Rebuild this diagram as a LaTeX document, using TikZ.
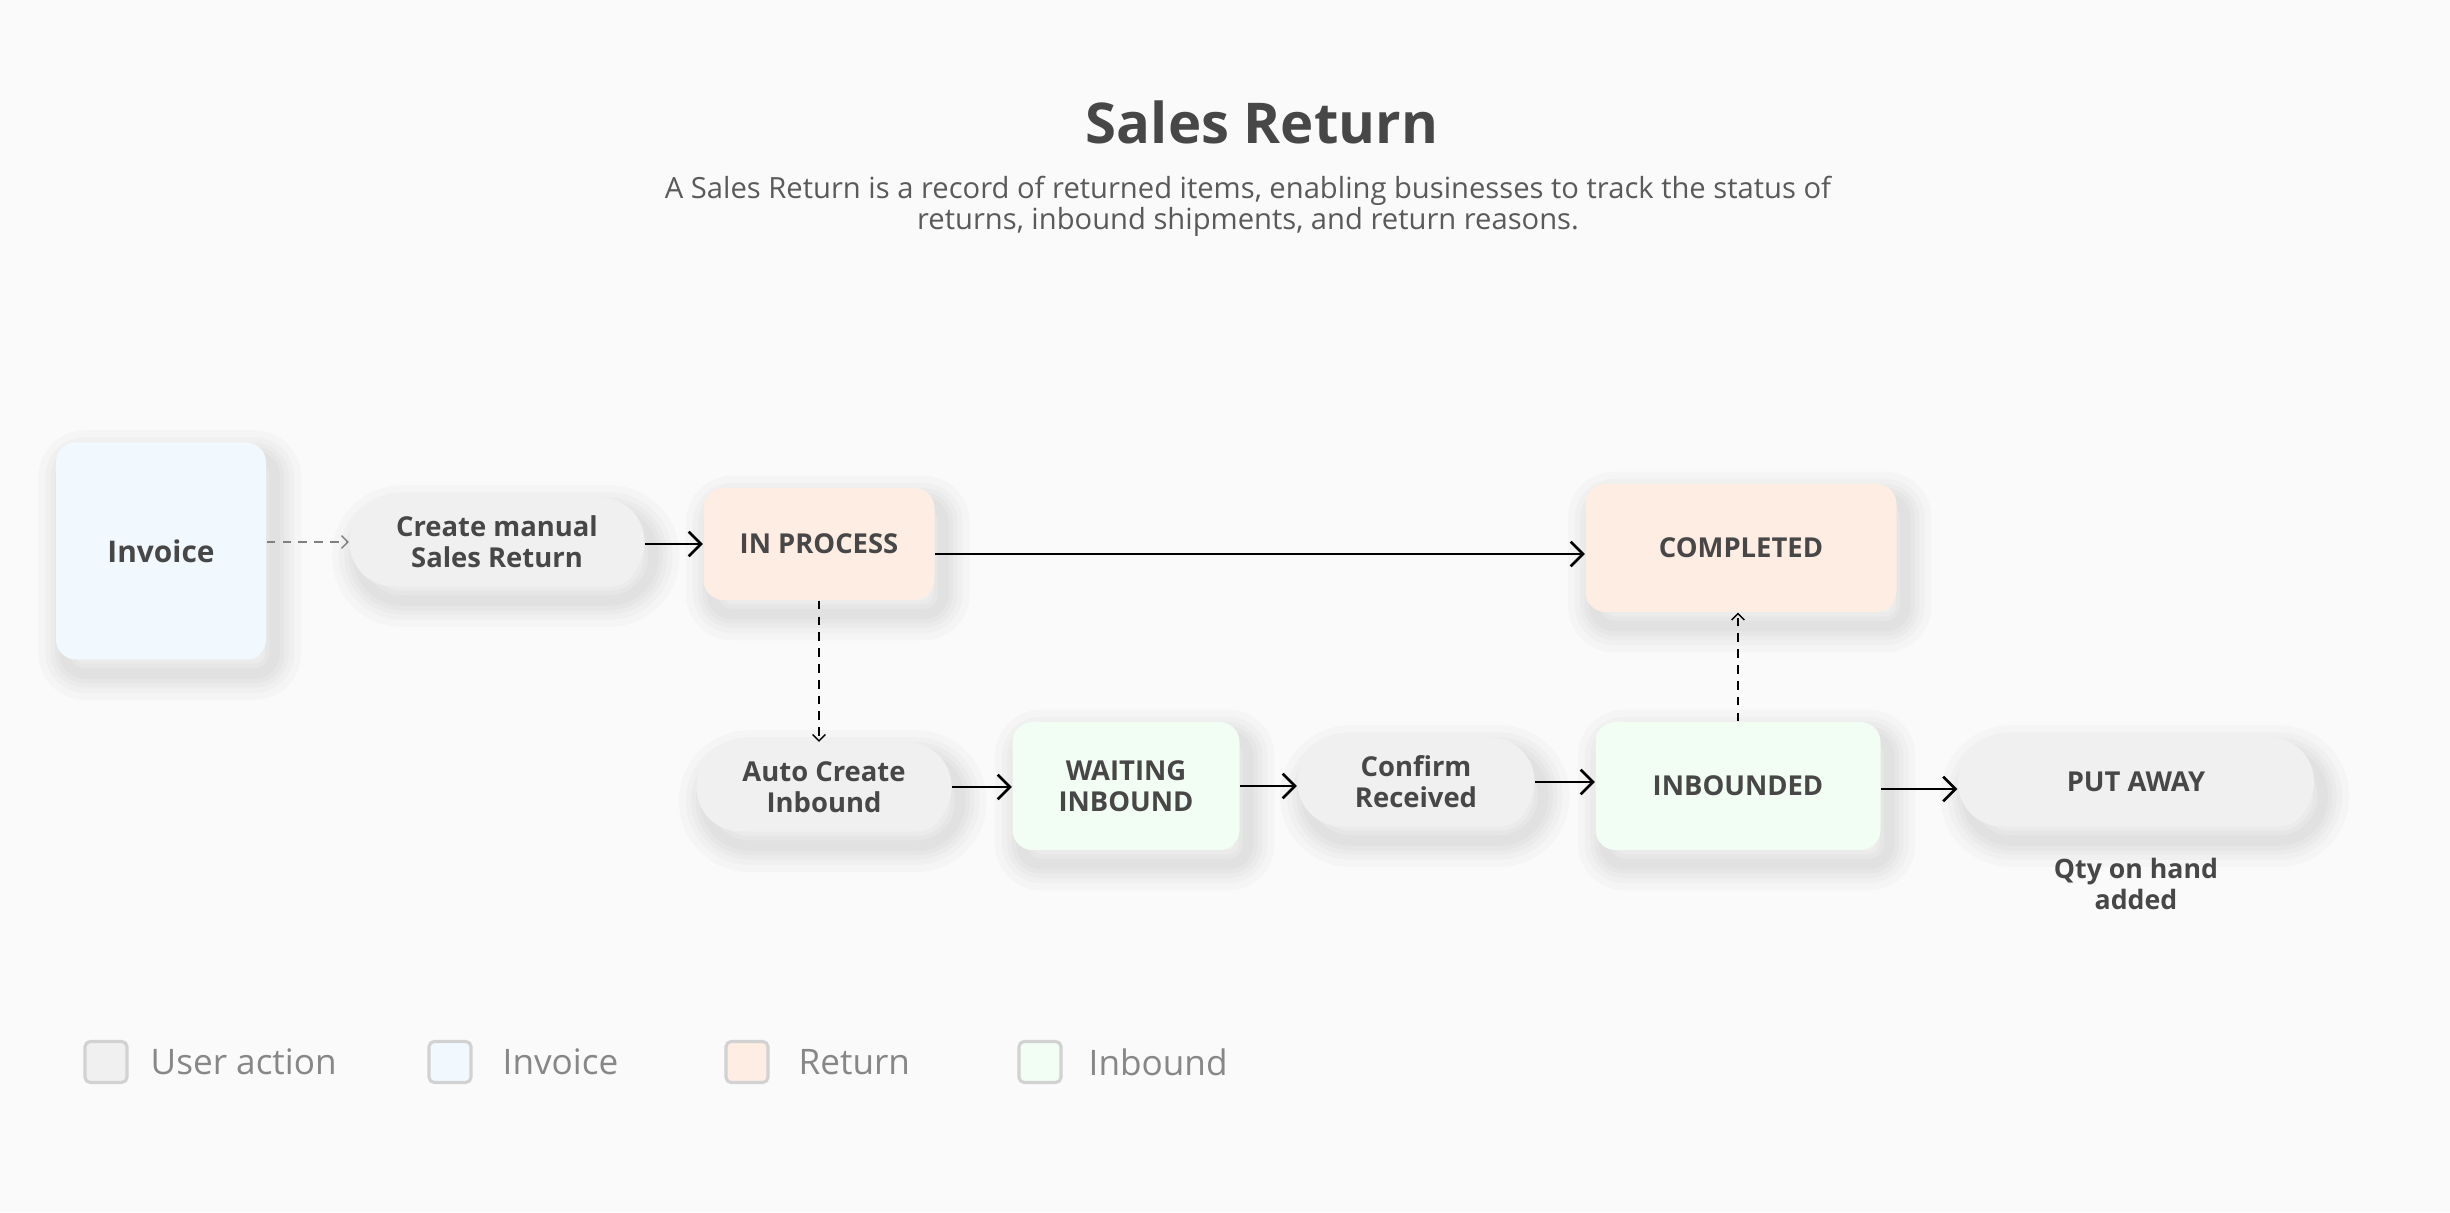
\documentclass[tikz,border=0pt]{standalone}
\usepackage{fontspec}
\setmainfont{Open Sans}
\usetikzlibrary{arrows.meta}
\definecolor{bgcol}{HTML}{FAFAFA}
\definecolor{usercol}{HTML}{F0F0F0}
\definecolor{invcol}{HTML}{F1F9FF}
\definecolor{retcol}{HTML}{FDEDE3}
\definecolor{incol}{HTML}{F2FDF3}
\definecolor{txtcol}{HTML}{474747}
\definecolor{legtxt}{HTML}{878787}
\definecolor{legline}{HTML}{D2D2D2}
\begin{document}
\begin{tikzpicture}[
	every node/.style={text=txtcol, align=center, inner sep=0pt},
	shadowring/.style={preaction={draw=black, line width=#1, draw opacity=0.019, transform canvas={xshift=2.5pt, yshift=-4pt}}},
	softshadow/.style={shadowring=15pt, shadowring=11pt, shadowring=8pt, shadowring=5.5pt, shadowring=3pt},
	card/.style={rounded corners=0.2cm, softshadow, font=\bfseries\fontsize{7.8}{8.8}\selectfont},
	action/.style={card, fill=usercol, rounded corners=0.44cm, minimum height=0.89cm},
	invoicebox/.style={card, fill=invcol},
	returnbox/.style={card, fill=retcol},
	inboundbox/.style={card, fill=incol},
	legbox/.style={draw=legline, line width=0.9pt, rounded corners=1.5pt, minimum width=0.42cm, minimum height=0.41cm},
	legtext/.style={anchor=west, text=legtxt, font=\fontsize{10}{11}\selectfont},
	flow/.style={-{Straight Barb[length=3.5pt,width=7pt]}, line width=0.75pt, black},
	link/.style={-{Straight Barb[length=1.8pt,width=3.6pt]}, dash pattern=on 2.5pt off 2pt, line width=0.4pt}
	]
	\fill[bgcol] (0,0) rectangle (24.5,12.12);
	\useasboundingbox (0,0) rectangle (24.5,12.12);
	\node (title) at (12.62,10.90) {\bfseries\fontsize{16}{18}\selectfont Sales Return};
	\node[text=txtcol!90, font=\fontsize{8.3}{8.9}\selectfont] (subtitle) at (12.48,10.06) {A Sales Return is a record of returned items, enabling businesses to track the status of\\returns, inbound shipments, and return reasons.};
	\node[invoicebox, minimum width=2.10cm, minimum height=2.17cm, font=\bfseries\fontsize{8.5}{10}\selectfont] (invoice) at (1.61,6.61) {Invoice};
	\node[action, minimum width=2.95cm] (create) at (4.97,6.70) {Create manual\\Sales Return};
	\node[returnbox, minimum width=2.31cm, minimum height=1.12cm] (inprocess) at (8.19,6.68) {IN PROCESS};
	\node[returnbox, minimum width=3.11cm, minimum height=1.28cm] (completed) at (17.41,6.64) {COMPLETED};
	\node[action, minimum width=2.55cm] (autocreate) at (8.24,4.25) {Auto Create\\Inbound};
	\node[inboundbox, minimum width=2.27cm, minimum height=1.28cm] (waiting) at (11.26,4.26) {WAITING\\INBOUND};
	\node[action, minimum width=2.37cm] (confirm) at (14.16,4.30) {Confirm\\Received};
	\node[inboundbox, minimum width=2.85cm, minimum height=1.28cm] (inbounded) at (17.38,4.26) {INBOUNDED};
	\node[action, minimum width=3.56cm] (putaway) at (21.36,4.30) {PUT AWAY};
	\node[font=\bfseries\fontsize{7.6}{8.8}\selectfont] (qty) at (21.36,3.28) {Qty on hand\\added};
	\draw[link, gray] (invoice.east |- create.west) -- (create.west);
	\draw[flow] (create.east |- inprocess.west) -- (inprocess.west);
	\draw[flow] ([yshift=-0.1cm]inprocess.east) -- ([yshift=-0.1cm]inprocess.east -| completed.west);
	\draw[link] (inprocess.south) -- (inprocess.south |- autocreate.north);
	\draw[link] (inbounded.north) -- (inbounded.north |- completed.south);
	\draw[flow] (autocreate.east) -- (autocreate.east -| waiting.west);
	\draw[flow] (waiting.east) -- (waiting.east -| confirm.west);
	\draw[flow] (confirm.east) -- (confirm.east -| inbounded.west);
	\draw[flow] ([yshift=-0.03cm]inbounded.east) -- ([yshift=-0.03cm]inbounded.east -| putaway.west);
	\node[legbox, fill=usercol] (leguser) at (1.06,1.50) {};
	\node[legtext] (legusertext) at (1.50,1.50) {User action};
	\node[legbox, fill=invcol] (leginv) at (4.50,1.50) {};
	\node[legtext] (leginvtext) at (5.02,1.50) {Invoice};
	\node[legbox, fill=retcol] (legret) at (7.47,1.50) {};
	\node[legtext] (legrettext) at (7.98,1.50) {Return};
	\node[legbox, fill=incol] (legin) at (10.40,1.50) {};
	\node[legtext] (legintext) at (10.88,1.50) {Inbound};
\end{tikzpicture}
\end{document}
